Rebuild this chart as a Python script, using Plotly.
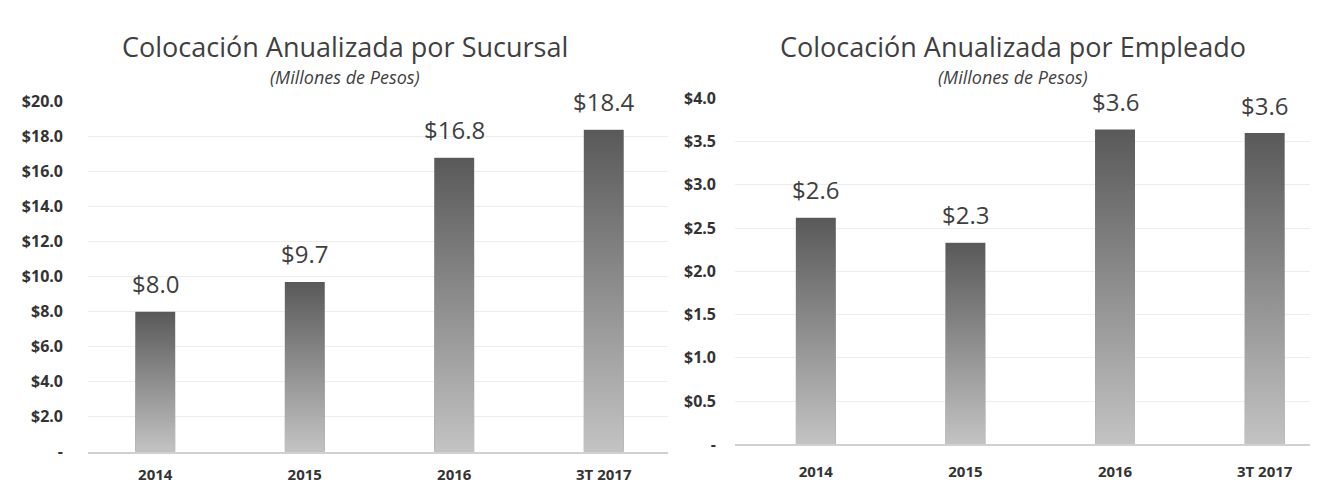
import base64
import plotly.graph_objects as go

# ---- data ----
categories = ["2014", "2015", "2016", "3T 2017"]
sucursal_values = [8.0, 9.7, 16.8, 18.4]
empleado_values = [2.62, 2.33, 3.64, 3.60]

left_tickvals = [0, 2, 4, 6, 8, 10, 12, 14, 16, 18, 20]
left_ticktext = ["-", "$2.0", "$4.0", "$6.0", "$8.0", "$10.0", "$12.0", "$14.0", "$16.0", "$18.0", "$20.0"]
right_tickvals = [0, 0.5, 1.0, 1.5, 2.0, 2.5, 3.0, 3.5, 4.0]
right_ticktext = ["-", "$0.5", "$1.0", "$1.5", "$2.0", "$2.5", "$3.0", "$3.5", "$4.0"]

title_left = "Colocación Anualizada por Sucursal"
title_right = "Colocación Anualizada por Empleado"
subtitle = "(Millones de Pesos)"

W, H = 1318, 483
FONT = "Open Sans"
BAR_COLOR = "#8c8c8c"
TEXT_DARK = "#3f3f3f"
BARGAP = 0.733
GRAD_TOP, GRAD_BOTTOM = "#595959", "#c3c3c3"

def px_x(p):
    return p / W

def px_y(p):
    return 1 - p / H

# vertical gradient used to shade each bar (stretched over the bar's extent)
svg = (
    '<svg xmlns="http://www.w3.org/2000/svg" width="10" height="100" viewBox="0 0 10 100" '
    'preserveAspectRatio="none"><defs><linearGradient id="g" x1="0" y1="0" x2="0" y2="1">'
    f'<stop offset="0" stop-color="{GRAD_TOP}"/><stop offset="1" stop-color="{GRAD_BOTTOM}"/>'
    '</linearGradient></defs><rect x="0" y="0" width="10" height="100" fill="url(#g)"/></svg>'
)
GRAD_SRC = "data:image/svg+xml;base64," + base64.b64encode(svg.encode()).decode()

fig = go.Figure()

fig.add_trace(go.Bar(
    x=categories, y=sucursal_values, xaxis="x", yaxis="y",
    marker=dict(color=BAR_COLOR, line=dict(width=0)),
    hoverinfo="skip", showlegend=False,
))
fig.add_trace(go.Bar(
    x=categories, y=empleado_values, xaxis="x2", yaxis="y2",
    marker=dict(color=BAR_COLOR, line=dict(width=0)),
    hoverinfo="skip", showlegend=False,
))

bar_w = 1 - BARGAP
images = []
annotations = []
for xr, yr, vals in [("x", "y", sucursal_values), ("x2", "y2", empleado_values)]:
    for i, v in enumerate(vals):
        images.append(dict(source=GRAD_SRC, xref=xr, yref=yr, x=i - bar_w / 2, y=v,
                           sizex=bar_w, sizey=v, xanchor="left", yanchor="top",
                           sizing="stretch", layer="above"))
        annotations.append(dict(x=i, y=v, xref=xr, yref=yr, text=f"${v:.1f}",
                                showarrow=False, yanchor="middle", yshift=28,
                                font=dict(family=FONT, size=24, color=TEXT_DARK)))

for cx, t in [(337, title_left), (1005, title_right)]:
    annotations.append(dict(x=px_x(cx), y=px_y(29), xref="paper", yref="paper", text=t,
                            showarrow=False, xanchor="center", yanchor="middle",
                            font=dict(family=FONT, size=27, color=TEXT_DARK)))
    annotations.append(dict(x=px_x(cx), y=px_y(61), xref="paper", yref="paper",
                            text=f"<i>{subtitle}</i>",
                            showarrow=False, xanchor="center", yanchor="middle",
                            font=dict(family=FONT, size=18, color=TEXT_DARK)))

axis_tick_font = dict(family=FONT, size=16, color="#333333", weight="bold")
x_tick_font = dict(family=FONT, size=15, color="#333333", weight="bold")

fig.update_layout(
    width=W, height=H,
    margin=dict(l=0, r=0, t=0, b=0),
    paper_bgcolor="white", plot_bgcolor="white",
    bargap=BARGAP,
    showlegend=False,
    annotations=annotations,
    images=images,
    xaxis=dict(domain=[px_x(80), px_x(660)], anchor="y", type="category",
               range=[-0.45, 3.43], showgrid=False, showline=True,
               linecolor="#d0d0d0", linewidth=1.5, ticks="", tickfont=x_tick_font,
               ticklabelstandoff=9),
    yaxis=dict(domain=[px_y(453.3), px_y(86.7)], anchor="x", range=[0, 20],
               tickvals=left_tickvals, ticktext=left_ticktext,
               showgrid=True, gridcolor="#ededed", gridwidth=1, zeroline=False,
               showline=False, tickfont=axis_tick_font, ticklabelstandoff=24),
    xaxis2=dict(domain=[px_x(727), 1.0], anchor="y2", type="category",
                range=[-0.54, 3.41], showgrid=False, showline=True,
                linecolor="#d0d0d0", linewidth=1.5, ticks="", tickfont=x_tick_font,
                ticklabelstandoff=13),
    yaxis2=dict(domain=[px_y(445.6), px_y(83.2)], anchor="x2", range=[0, 4],
                tickvals=right_tickvals, ticktext=right_ticktext,
                showgrid=True, gridcolor="#ededed", gridwidth=1, zeroline=False,
                showline=False, tickfont=axis_tick_font, ticklabelstandoff=18),
)

fig.write_html("out.html")
